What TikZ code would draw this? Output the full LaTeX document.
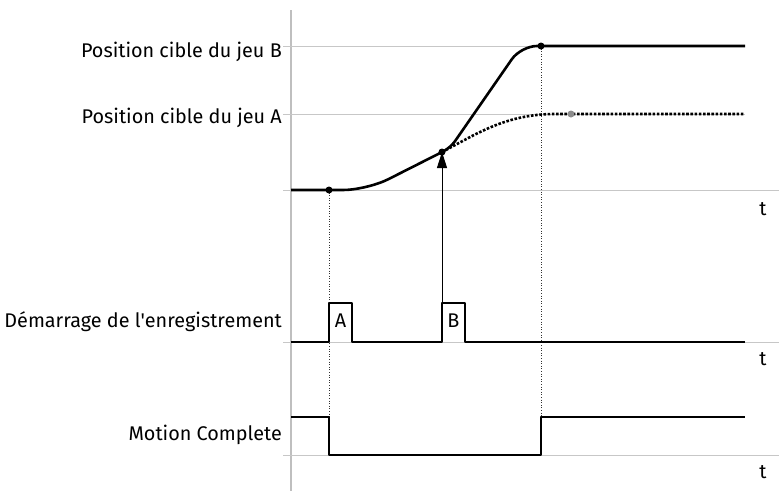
\documentclass[tikz,border=0pt]{standalone}
\usepackage{fontspec}
\setmainfont{Fira Sans}
\usetikzlibrary{arrows.meta}
\tikzset{
  grid/.style={draw=black!22, line width=1pt},
  sig/.style={line width=2.6pt, line join=round},
  guide/.style={line width=0.9pt, black!80, dash pattern=on 1pt off 1.6pt},
  dot/.style={circle, fill=black, inner sep=0pt, minimum size=7pt},
  lbl/.style={anchor=base east, inner sep=0pt},
  tlbl/.style={anchor=base, inner sep=0pt},
}
\begin{document}
\begin{tikzpicture}[x=1pt, y=-1pt, font=\fontsize{19.8}{23}\selectfont]
    \useasboundingbox (0,0) rectangle (779,491);
    % axis and reference lines
    \draw[black!25, line width=2.5pt] (291,10) -- (291,491);
    \draw[grid] (283,46) -- (745,46);
    \draw[grid] (283,114) -- (745,114);
    \draw[grid] (283,190) -- (779,190);
    \draw[grid] (283,342) -- (779,342);
    \draw[grid] (283,455) -- (779,455);
    % labels
    \node[lbl] (posB) at (282,57) {Position cible du jeu B};
    \node[lbl] (posA) at (282,123) {Position cible du jeu A};
    \node[lbl] (start) at (282,327) {Démarrage de l\textquotesingle enregistrement};
    \node[lbl] (mc) at (282,440) {Motion Complete};
    \node[tlbl] (t1) at (763,215) {t};
    \node[tlbl] (t2) at (763,365) {t};
    \node[tlbl] (t3) at (763,478) {t};
    % points
    \coordinate (p0) at (329,190);
    \coordinate (p1) at (442,152);
    \coordinate (p2) at (541,46);
    \coordinate (pA) at (571,114);
    \coordinate (trigB) at (442,303);
    % guides
    \draw[guide] (p0) -- (329,455);
    \draw[guide] (p2) -- (541,417);
    % position curves
    \draw[sig, dash pattern=on 2.6pt off 1.6pt, line width=2.6pt]
      (p1) .. controls (475,135) and (505,114) .. (555,114) -- (745,114);
    \draw[sig, rounded corners=24pt] (291,190) -- (367,190)
      [rounded corners=8pt] -- (450.4,147.8)
      [rounded corners=16pt] -- (521,46) -- (745,46);
    \node[dot] (d0) at (p0) {};
    \node[dot] (d1) at (p1) {};
    \node[dot] (d2) at (p2) {};
    \node[dot, fill=black!45] (dA) at (pA) {};
    % trigger arrow
    \draw[line width=1pt, -{Triangle[length=16pt,width=10pt]}] (trigB) -- (p1);
    % digital signals
    \draw[sig] (291,342) -- (329,342) -- (329,303) -- (352,303) -- (352,342)
      -- (442,342) -- (442,303) -- (465,303) -- (465,342) -- (745,342);
    \draw[sig] (291,417) -- (329,417) -- (329,455) -- (541,455) -- (541,417)
      -- (745,417);
    \node[tlbl] (pulseA) at (340.5,327) {A};
    \node[tlbl] (pulseB) at (453.5,327) {B};
\end{tikzpicture}
\end{document}
